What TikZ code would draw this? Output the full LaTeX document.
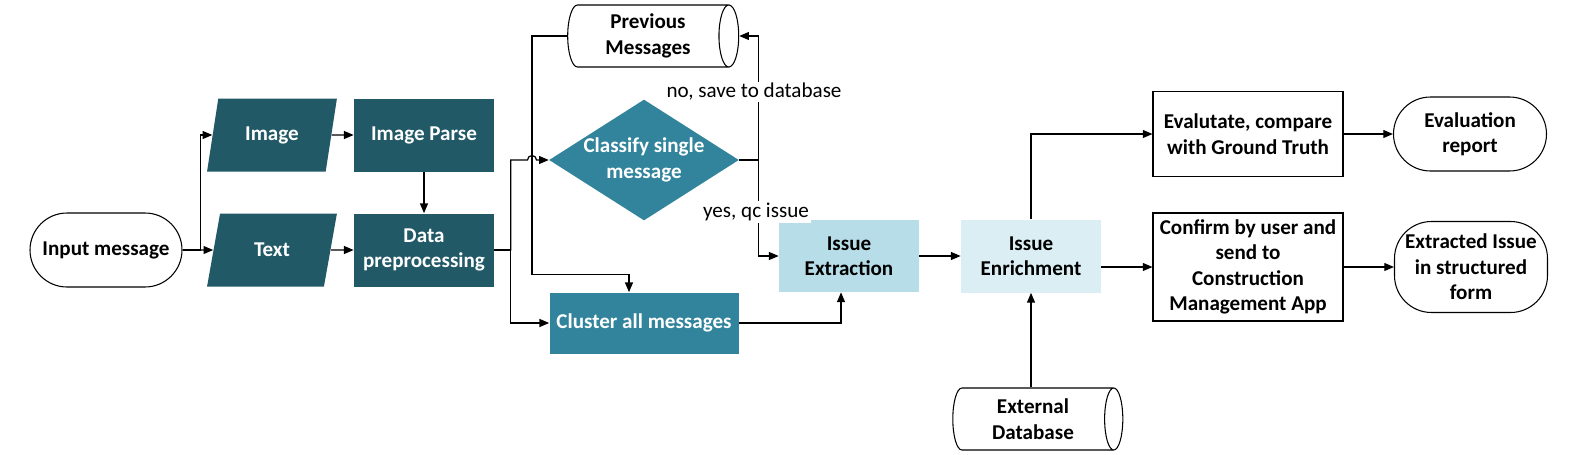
\documentclass[tikz,border=0pt]{standalone}
\usepackage{fontspec}
\setmainfont{Carlito}
\usepackage{tikz}
\usetikzlibrary{arrows.meta, shapes.geometric}

\begin{document}
\begin{tikzpicture}[
    every node/.style={font=\fontsize{12}{14.5}\selectfont\bfseries, align=center, inner sep=0pt},
    box/.style={rectangle, minimum width=2.8cm, minimum height=1.46cm},
    inout/.style={trapezium, trapezium left angle=72, trapezium right angle=108, trapezium stretches=true, minimum width=2.6cm, minimum height=1.46cm, fill=tealdark, text=white},
    terminal/.style={rectangle, rounded corners=0.74cm, draw, line width=0.6pt, minimum width=3.06cm, minimum height=1.48cm},
    store/.style={cylinder, draw, line width=0.6pt, shape aspect=0.45, minimum height=3.42cm, minimum width=1.24cm},
    arr/.style={line width=0.7pt, -{Triangle[length=5.5pt,width=4.5pt]}},
    lbl/.style={font=\fontsize{12}{14.5}\selectfont\mdseries, fill=white, inner sep=1pt}
  ]
    \useasboundingbox (0,0) rectangle (31.66,9.08);
    \definecolor{tealdark}{HTML}{215967}
    \definecolor{tealmid}{HTML}{31849B}
    \definecolor{teallight}{HTML}{B7DEE8}
    \definecolor{tealpale}{HTML}{DAEEF3}
    % input
    \node[terminal, minimum width=3.04cm] (input) at (2.12,4.08) {Input message};
    % image and text
    \node[inout] (image) at (5.44,6.38) {Image};
    \node[inout] (txt) at (5.44,4.08) {Text};
    \node[box, fill=tealdark, text=white] (imgparse) at (8.48,6.38) {Image Parse};
    \node[box, fill=tealdark, text=white] (dataprep) at (8.48,4.08) {Data\\preprocessing};
    % classification
    \node[store] (prevmsg) at (12.96,8.36) {Previous\\Messages};
    \node[diamond, aspect=1.57, fill=tealmid, text=white, minimum width=3.76cm, minimum height=2.4cm] (classify) at (12.88,5.88) {Classify single\\message};
    \node[box, fill=tealmid, text=white, minimum width=3.78cm, minimum height=1.22cm] (cluster) at (12.88,2.62) {Cluster all messages};
    % extraction
    \node[box, fill=teallight, minimum height=1.44cm] (extract) at (16.98,3.96) {Issue\\Extraction};
    \node[box, fill=tealpale] (enrich) at (20.62,3.96) {Issue\\Enrichment};
    \node[store, minimum height=3.4cm] (extdb) at (20.66,0.7) {External\\Database};
    % outputs
    \node[box, draw, line width=0.6pt, minimum width=3.8cm, minimum height=1.7cm] (evaluate) at (24.96,6.4) {Evalutate, compare\\with Ground Truth};
    \node[terminal] (report) at (29.4,6.4) {Evaluation\\report};
    \node[box, draw, line width=0.6pt, minimum width=3.8cm, minimum height=2.16cm] (confirm) at (24.96,3.74) {Confirm by user and\\send to\\Construction\\Management App};
    \node[terminal, minimum height=1.82cm] (extracted) at (29.42,3.74) {Extracted Issue\\in structured\\form};
    % connectors
    \coordinate (hop) at (10.64,5.88);
    \draw[arr] (input.east) -- ++(0.36,0) |- (image.west);
    \draw[arr] (input.east) -- (txt.west);
    \draw[arr] (image.east) -- (imgparse.west);
    \draw[arr] (txt.east) -- (dataprep.west);
    \draw[arr] (imgparse.south) -- (dataprep.north);
    \draw[arr] (dataprep.east) -- ++(0.33,0) |- ([xshift=-0.09cm]hop) arc (180:0:0.09) -- (classify.west);
    \draw[arr] (dataprep.east) -- ++(0.33,0) |- (cluster.west);
    \draw[arr] (prevmsg.west) -- (hop |- prevmsg.west) |- ([xshift=-0.3cm,yshift=0.35cm]cluster.north) -- ([xshift=-0.3cm]cluster.north);
    \draw[arr] (classify.east) -- ++(0.38,0) |- (prevmsg.east);
    \draw[arr] (classify.east) -- ++(0.38,0) |- (extract.west);
    \draw[arr] (cluster.east) -| ([xshift=-0.16cm]extract.south);
    \draw[arr] (extract.east) -- (enrich.west);
    \draw[arr] (enrich.north) |- (evaluate.west);
    \draw[arr] (enrich.east |- confirm.west) -- (confirm.west);
    \draw[arr] (enrich.south |- extdb.north) -- (enrich.south);
    \draw[arr] (evaluate.east) -- (report.west);
    \draw[arr] (confirm.east) -- (extracted.west);
    % labels
    \node[lbl] (nolbl) at (15.08,7.24) {no, save to database};
    \node[lbl] (yeslbl) at (15.12,4.84) {yes, qc issue};
\end{tikzpicture}
\end{document}
